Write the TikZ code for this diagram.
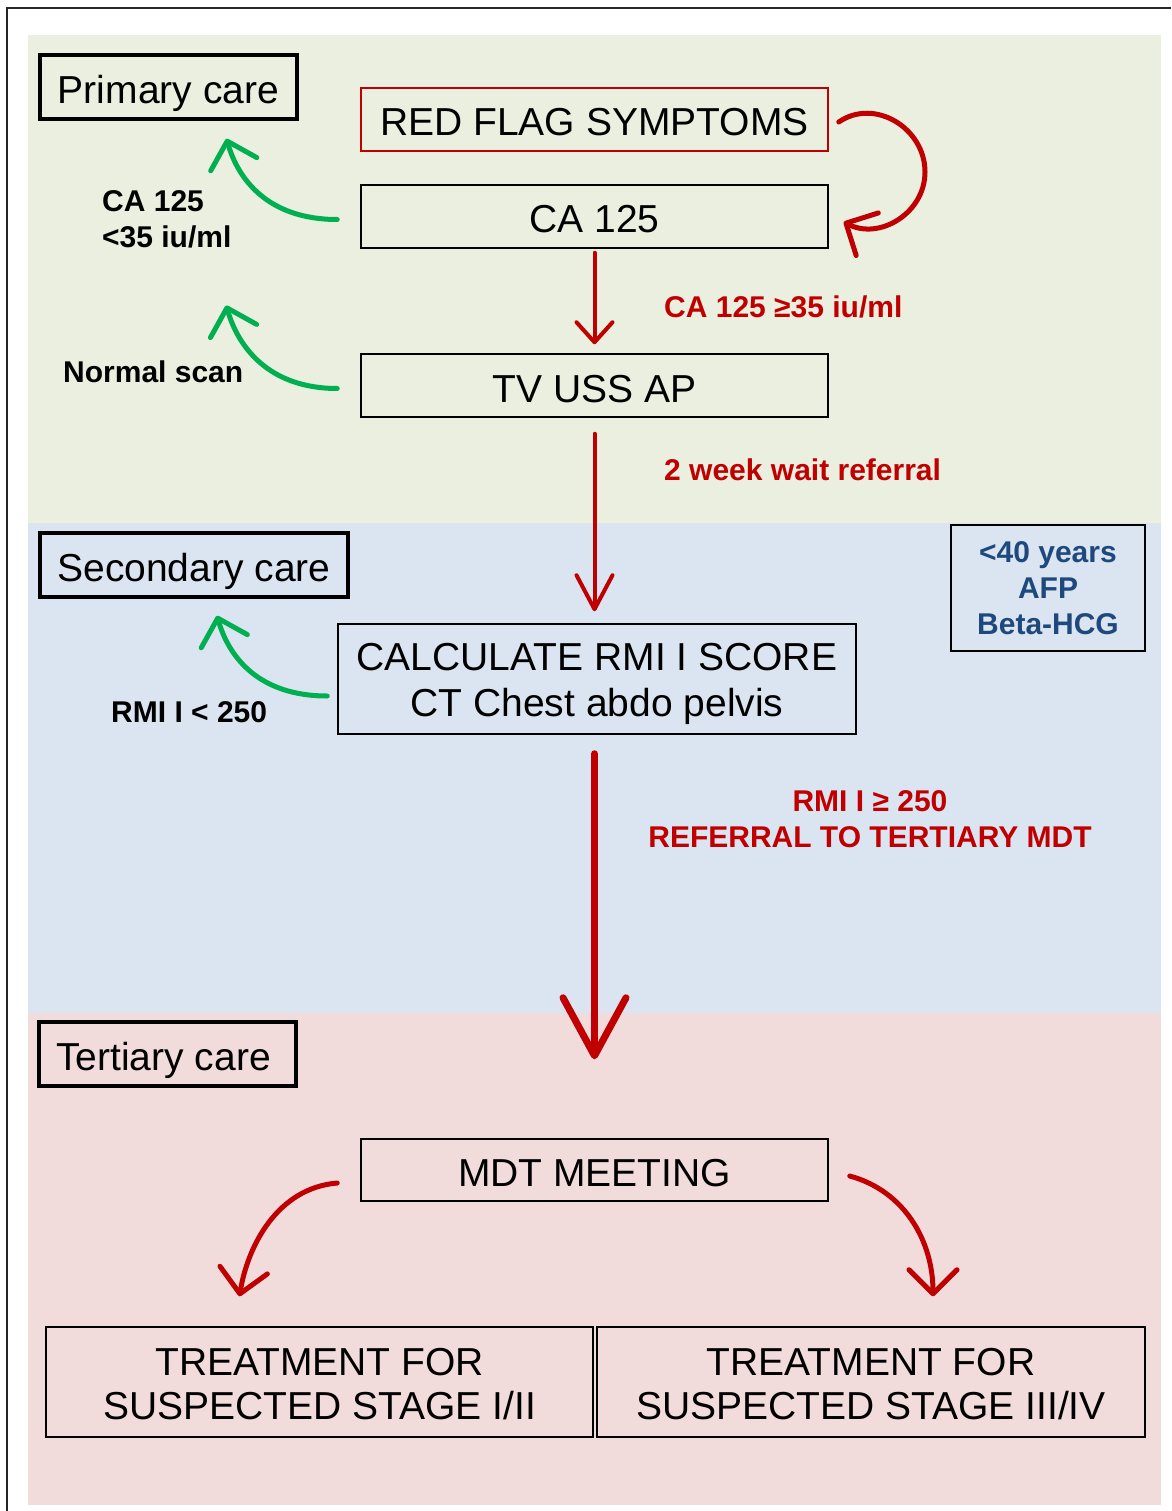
\documentclass[tikz,border=0pt]{standalone}
\usepackage{fontspec}
\setmainfont{Liberation Sans}
\usetikzlibrary{arrows.meta}
\usetikzlibrary{calc}
\definecolor{bandgreen}{HTML}{EBEFDF}
\definecolor{bandblue}{HTML}{DBE5F1}
\definecolor{bandpink}{HTML}{F2DCDB}
\definecolor{flagred}{HTML}{C00000}
\definecolor{okgreen}{HTML}{00B050}
\definecolor{noteblue}{HTML}{1F497D}

\begin{document}
\begin{tikzpicture}[x=1pt, y=-1pt,
  boxtext/.style={font=\fontsize{39}{45}\selectfont, text height=33pt, text depth=0pt},
  carebox/.style={draw, line width=3.5pt, boxtext, inner sep=0pt},
  stepbox/.style={draw, line width=1.5pt, boxtext, inner sep=0pt, align=center},
  note/.style={font=\fontsize{30}{36}\selectfont\bfseries, inner sep=0pt},
  redlabel/.style={note, text=flagred},
  greenarrow/.style={okgreen, line width=5pt, line cap=round, -{Straight Barb[length=24pt,width=48pt,round]}},
  redarrow/.style={flagred, line width=5pt, line cap=round, -{Straight Barb[length=24pt,width=48pt,round]}}
]
    \useasboundingbox (0,0) rectangle (1171,1511);
    % care bands
    \fill[bandgreen] (28,35) rectangle (1161,523);
    \fill[bandblue] (28,523) rectangle (1161,1013);
    \fill[bandpink] (28,1013) rectangle (1161,1505);
    \draw[line width=2pt, black!85] (1171,8) -- (7,8) -- (7,1511);

    % boxes
    \node[carebox, minimum width=257, minimum height=64] (primary) at (168.5,87) {Primary care};
    \node[carebox, minimum width=308, minimum height=64] (secondary) at (194,565) {Secondary care};
    \node[carebox, minimum width=257, minimum height=64] (tertiary) at (167.5,1054) {Tertiary care\hspace*{8pt}};
    \node[stepbox, draw=flagred, minimum width=467, minimum height=63] (redflag) at (594.5,119.5) {RED FLAG SYMPTOMS};
    \node[stepbox, minimum width=467, minimum height=63] (ca) at (594.5,216.5) {CA 125};
    \node[stepbox, minimum width=467, minimum height=63] (tvuss) at (594.5,385.5) {TV USS AP};
    \node[stepbox, font=\fontsize{39}{46}\selectfont, text height=75pt, minimum width=518, minimum height=110] (rmi) at (597,679) {CALCULATE RMI I SCORE\\CT Chest abdo pelvis};
    \node[stepbox, minimum width=467, minimum height=62] (mdt) at (594.5,1170) {MDT MEETING};
    \node[stepbox, font=\fontsize{39}{44}\selectfont, text height=74pt, minimum width=547, minimum height=110] (early) at (319.5,1382) {TREATMENT FOR\\SUSPECTED STAGE I/II};
    \node[stepbox, font=\fontsize{39}{44}\selectfont, text height=74pt, minimum width=548, minimum height=110] (late) at (871,1382) {TREATMENT FOR\\SUSPECTED STAGE III/IV};
    \node[draw, line width=2pt, note, text=noteblue, align=center, minimum width=194, minimum height=126] (young) at (1048,588) {<40 years\\AFP\\Beta-HCG};

    % labels
    \node[note, anchor=west, align=left] (lowca) at (102,219) {CA 125\\<35 iu/ml};
    \node[note, anchor=west] (normal) at (63,372) {Normal scan};
    \node[note, anchor=west] (lowrmi) at (111,712) {RMI I < 250};
    \node[redlabel, anchor=west] (highca) at (664,307) {CA 125 ≥35 iu/ml};
    \node[redlabel, anchor=west] (twoweek) at (664,470) {2 week wait referral};
    \node[redlabel, align=center] (highrmi) at (870,819) {RMI I ≥ 250\\REFERRAL TO TERTIARY MDT};

    % green arrows back to care
    \draw[greenarrow] ($(ca.west)+(-23,3)$) .. controls +(-68,0) and +(12,42) .. ($(primary.south)+(58,18)$);
    \draw[greenarrow] ($(tvuss.west)+(-23,3)$) .. controls +(-68,0) and +(12,42) .. ($(tvuss.west)+(-134,-80)$);
    \draw[greenarrow] ($(rmi.west)+(-10,17)$) .. controls +(-68,0) and +(12,42) .. ($(secondary.south)+(23,17)$);

    % red pathway
    \draw[redarrow] ($(redflag.east)+(10,2.5)$) .. controls (874.5,97.4) and (925,128) .. (925,172)
      .. controls (925,213) and (879.5,240.6) .. ($(ca.east)+(15,5.5)$);
    \draw[flagred, line width=4pt, line cap=round, -{Straight Barb[length=20pt,width=36pt,round]}]
      ($(ca.south)+(0,4)$) -- ($(tvuss.north)+(0,-9)$);
    \draw[flagred, line width=4pt, line cap=round, -{Straight Barb[length=34pt,width=36pt,round]}]
      ($(tvuss.south)+(0,16)$) -- ($(tvuss.south|-rmi.north)+(0,-12)$);
    \draw[flagred, line width=7pt, line cap=round, -{Straight Barb[length=58pt,width=63pt,round]}]
      ($(mdt.north|-rmi.south)+(0,19)$) -- ($(mdt.north)+(0,-79)$);
    \draw[redarrow] ($(mdt.west)+(-23,13)$) .. controls +(-60,5) and +(8,-50) .. ($(early.north)+(-80,-30)$);
    \draw[redarrow] ($(mdt.east)+(21,6)$) .. controls +(55,15) and +(0,-55) .. ($(late.north)+(62,-30)$);
\end{tikzpicture}
\end{document}
